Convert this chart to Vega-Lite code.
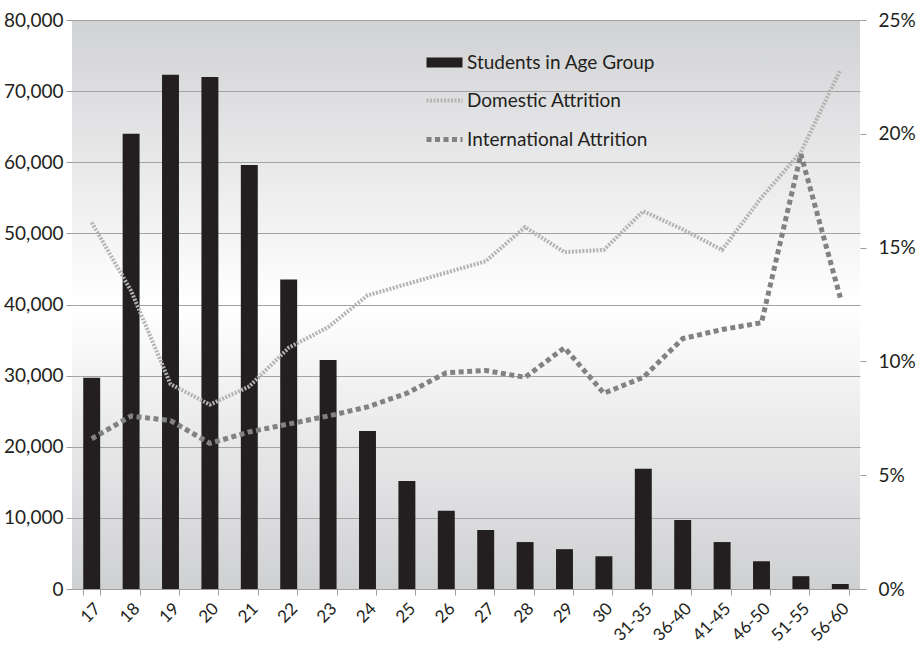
{
  "$schema": "https://vega.github.io/schema/vega-lite/v6.json",
  "width": 788,
  "height": 569,
  "autosize": {"type": "none"},
  "padding": {"left": 72, "top": 20, "right": 64, "bottom": 59},
  "background": "white",
  "view": {
    "stroke": null,
    "fill": {
      "gradient": "linear",
      "x1": 0, "y1": 0, "x2": 0, "y2": 1,
      "stops": [
        {"offset": 0, "color": "#d1d2d4"},
        {"offset": 0.5, "color": "#ffffff"},
        {"offset": 1, "color": "#cfd0d2"}
      ]
    }
  },
  "config": {
    "font": "Lato",
    "axis": {
      "labelColor": "#231f20",
      "labelFont": "Lato",
      "tickColor": "#9d9d9d",
      "domainColor": "#9d9d9d",
      "gridColor": "#a3a3a3",
      "gridWidth": 1.2,
      "title": null
    }
  },
  "data": {
    "values": [
      {"age": "17", "students": 29700, "domestic": 0.161, "international": 0.066},
      {"age": "18", "students": 64000, "domestic": 0.131, "international": 0.076},
      {"age": "19", "students": 72300, "domestic": 0.090, "international": 0.074},
      {"age": "20", "students": 72000, "domestic": 0.081, "international": 0.064},
      {"age": "21", "students": 59600, "domestic": 0.089, "international": 0.069},
      {"age": "22", "students": 43500, "domestic": 0.106, "international": 0.0725},
      {"age": "23", "students": 32200, "domestic": 0.115, "international": 0.076},
      {"age": "24", "students": 22200, "domestic": 0.129, "international": 0.080},
      {"age": "25", "students": 15200, "domestic": 0.134, "international": 0.086},
      {"age": "26", "students": 11000, "domestic": 0.139, "international": 0.095},
      {"age": "27", "students": 8300, "domestic": 0.144, "international": 0.096},
      {"age": "28", "students": 6600, "domestic": 0.159, "international": 0.093},
      {"age": "29", "students": 5600, "domestic": 0.148, "international": 0.106},
      {"age": "30", "students": 4600, "domestic": 0.149, "international": 0.086},
      {"age": "31-35", "students": 16900, "domestic": 0.166, "international": 0.093},
      {"age": "36-40", "students": 9700, "domestic": 0.158, "international": 0.110},
      {"age": "41-45", "students": 6600, "domestic": 0.149, "international": 0.114},
      {"age": "46-50", "students": 3900, "domestic": 0.172, "international": 0.117},
      {"age": "51-55", "students": 1800, "domestic": 0.192, "international": 0.191},
      {"age": "56-60", "students": 700, "domestic": 0.228, "international": 0.128}
    ]
  },
  "encoding": {
    "x": {
      "field": "age",
      "type": "ordinal",
      "sort": null,
      "scale": {"paddingInner": 0.57},
      "axis": {
        "labelAngle": -45,
        "labelFontSize": 17,
        "labelPadding": 5,
        "tickBand": "extent",
        "tickSize": 6,
        "domainWidth": 1.2,
        "grid": false
      }
    }
  },
  "layer": [
    {
      "mark": {"type": "bar"},
      "encoding": {
        "y": {
          "field": "students",
          "type": "quantitative",
          "scale": {"domain": [0, 80000], "nice": false},
          "axis": {
            "orient": "left",
            "values": [0, 10000, 20000, 30000, 40000, 50000, 60000, 70000, 80000],
            "format": ",.0f",
            "grid": true,
            "domain": false,
            "tickSize": 6,
            "labelPadding": 3,
            "labelFontSize": 19
          }
        },
        "color": {
          "datum": "Students in Age Group",
          "type": "nominal",
          "scale": {
            "domain": ["Students in Age Group", "Domestic Attrition", "International Attrition"],
            "range": ["#231f20", "#b3b3b3", "#828282"]
          },
          "legend": {
            "title": null,
            "orient": "none",
            "legendX": 363,
            "legendY": 33,
            "direction": "vertical",
            "labelFontSize": 19,
            "labelColor": "#231f20",
            "labelFont": "Lato",
            "labelLimit": 300,
            "symbolSize": 1296,
            "rowPadding": 18,
            "labelOffset": 13,
            "padding": 0,
            "encode": {
              "symbols": {
                "update": {
                  "shape": {"signal": "datum.label === 'Students in Age Group' ? 'M-1,-0.28H1V0.28H-1Z' : 'M-1,0H1'"},
                  "fill": {"signal": "datum.label === 'Students in Age Group' ? '#231f20' : 'transparent'"},
                  "stroke": {"signal": "datum.label === 'Students in Age Group' ? '#231f20' : (datum.label === 'Domestic Attrition' ? '#b3b3b3' : '#828282')"},
                  "strokeWidth": {"signal": "datum.label === 'Students in Age Group' ? 0 : (datum.label === 'Domestic Attrition' ? 4 : 5)"},
                  "strokeDash": {"signal": "datum.label === 'Domestic Attrition' ? [2, 1.5] : (datum.label === 'International Attrition' ? [5, 3.5] : [1, 0])"},
                  "opacity": {"value": 1}
                }
              }
            }
          }
        }
      }
    },
    {
      "layer": [
        {
          "mark": {"type": "line", "strokeWidth": 4, "strokeDash": [2, 1.5], "strokeCap": "butt"},
          "encoding": {
            "y": {
              "field": "domestic",
              "type": "quantitative",
              "scale": {"domain": [0, 0.25], "nice": false},
              "axis": {
                "orient": "right",
                "values": [0, 0.05, 0.1, 0.15, 0.2, 0.25],
                "format": ".0%",
                "grid": false,
                "domain": false,
                "tickSize": 6,
                "labelPadding": 12,
                "labelFontSize": 19
              }
            },
            "color": {"datum": "Domestic Attrition", "type": "nominal"}
          }
        },
        {
          "mark": {"type": "line", "strokeWidth": 5, "strokeDash": [5, 3.5], "strokeCap": "butt"},
          "encoding": {
            "y": {
              "field": "international",
              "type": "quantitative",
              "scale": {"domain": [0, 0.25], "nice": false},
              "axis": {
                "orient": "right",
                "values": [0, 0.05, 0.1, 0.15, 0.2, 0.25],
                "format": ".0%",
                "grid": false,
                "domain": false,
                "tickSize": 6,
                "labelPadding": 12,
                "labelFontSize": 19
              }
            },
            "color": {"datum": "International Attrition", "type": "nominal"}
          }
        }
      ]
    }
  ],
  "resolve": {"scale": {"y": "independent"}}
}
